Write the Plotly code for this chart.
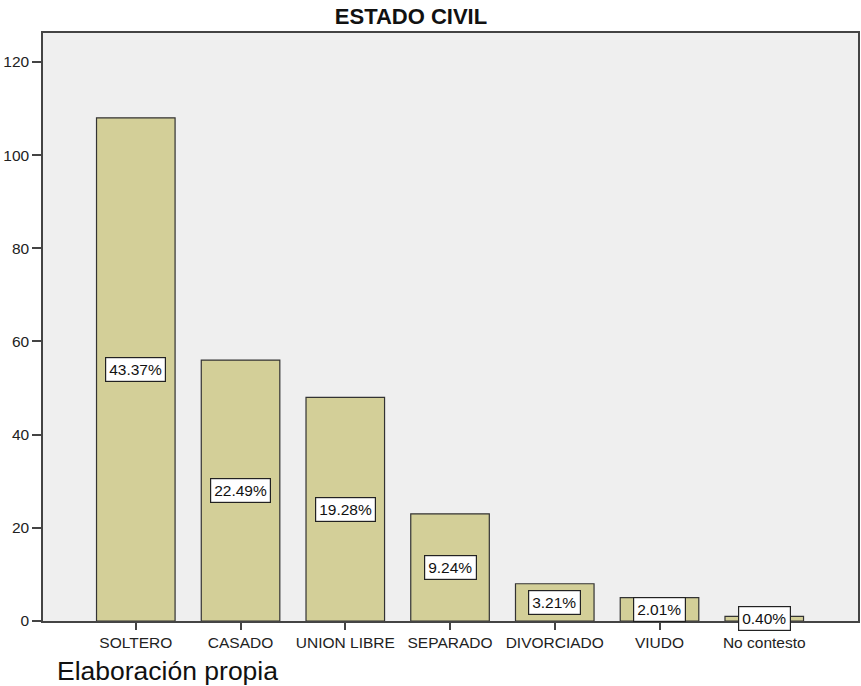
import plotly.graph_objects as go

categories = ["SOLTERO", "CASADO", "UNION LIBRE", "SEPARADO", "DIVORCIADO", "VIUDO", "No contesto"]
counts = [108, 56, 48, 23, 8, 5, 1]
pct_labels = ["43.37%", "22.49%", "19.28%", "9.24%", "3.21%", "2.01%", "0.40%"]
y_ticks = [0, 20, 40, 60, 80, 100, 120]

FONT = "Liberation Sans, Arial, sans-serif"

fig = go.Figure()
fig.add_trace(go.Bar(
    x=categories, y=counts, width=0.75,
    marker=dict(color="#d3cf98", line=dict(color="#333333", width=1.2)),
    hoverinfo="skip",
))

annotations = []
for c, v, t in zip(categories, counts, pct_labels):
    annotations.append(dict(
        x=c, y=v / 2, xref="x", yref="y", text=t, showarrow=False,
        font=dict(family=FONT, size=15.5, color="#111111"),
        bgcolor="white", bordercolor="#222222", borderwidth=1.2, borderpad=3,
    ))
annotations.append(dict(
    x=(55 - 43) / 817, y=-(671 - 621) / 588, xref="paper", yref="paper",
    xanchor="left", yanchor="middle", showarrow=False,
    text="Elaboración propia", font=dict(family=FONT, size=26.5, color="#111111"),
))

fig.update_layout(
    width=861, height=686,
    margin=dict(l=43, r=1, t=33, b=65),
    paper_bgcolor="white", plot_bgcolor="#efefef",
    showlegend=False,
    title=dict(text="<b>ESTADO CIVIL</b>", x=411 / 861, xref="container", xanchor="center",
               y=1 - 16 / 686, yref="container", yanchor="middle",
               font=dict(family=FONT, size=22, color="#111111")),
    annotations=annotations,
)
fig.update_xaxes(
    type="category", range=[-0.886, 6.895], showgrid=False,
    showline=True, linecolor="#444444", linewidth=1.5, mirror=True,
    ticks="outside", ticklen=7, tickcolor="#444444", tickwidth=1.5,
    tickfont=dict(family=FONT, size=15.5, color="#222222"),
)
fig.update_yaxes(
    range=[0, 126.2], tickvals=y_ticks, showgrid=False, zeroline=False,
    showline=True, linecolor="#444444", linewidth=1.5, mirror=True,
    ticks="outside", ticklen=9, tickcolor="#444444", tickwidth=1.5,
    tickfont=dict(family=FONT, size=15.5, color="#222222"),
)

fig.write_html("out.html")
